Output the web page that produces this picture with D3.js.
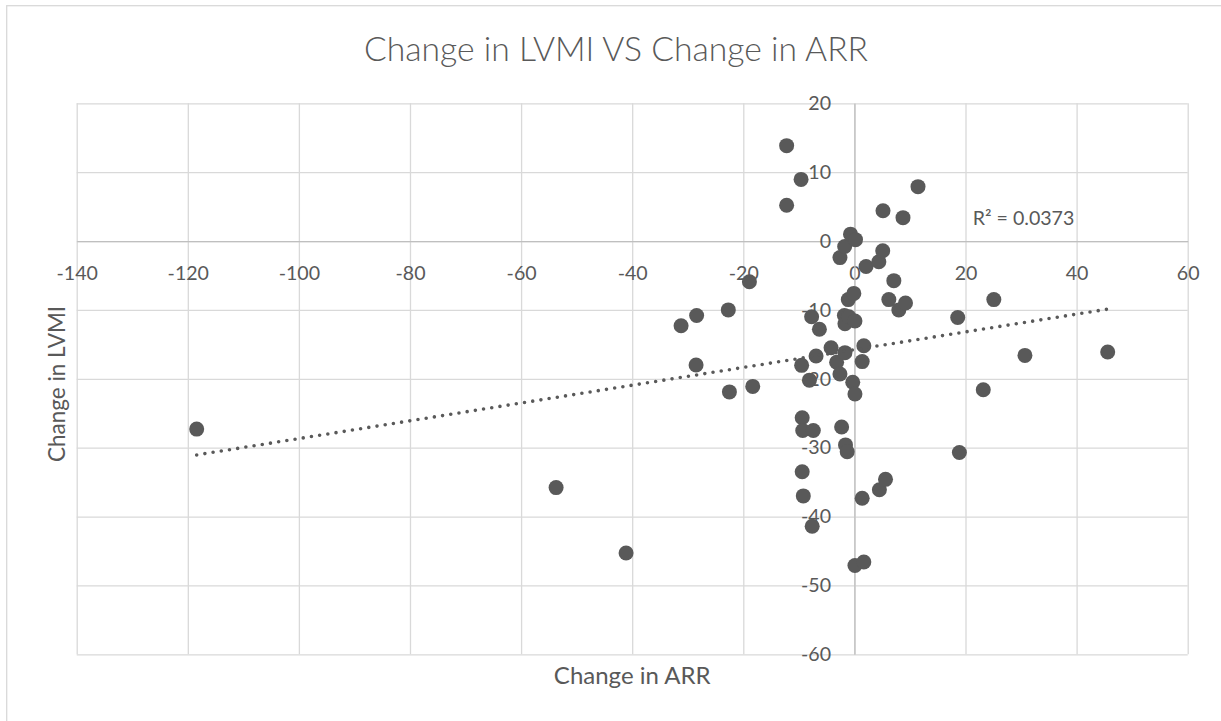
<!DOCTYPE html>
<html lang="en">
<head>
<meta charset="utf-8">
<title>Change in LVMI VS Change in ARR</title>
<script src="https://cdn.jsdelivr.net/npm/d3@7"></script>
<style>
  body { margin: 0; background: #fff; }
  svg { display: block; }
</style>
</head>
<body>
<script>
// values (x = change in ARR, y = change in LVMI)
var arrChange = [-118.4, -53.7, -41.1, -31.2, -28.4, -28.5, -22.7, -22.5, -18.9, -18.3,
                 -12.2, -9.6, -12.2, -9.5, -9.4, -9.3, -9.4, -9.2, -8.1, -7.7,
                 -7.6, -7.4, -6.9, -6.3, -4.2, -3.2, -2.6, -2.6, -2.3, -1.75,
                 -1.7, -1.8, -1.7, -1.6, -1.3, -1.1, -1.0, -0.7, -0.3, -0.1,
                 0.1, 0.1, 0.1, 0.2, 1.4, 1.4, 1.7, 1.7, 2.1, 4.4,
                 4.5, 5.1, 5.15, 5.6, 6.2, 7.1, 8.0, 8.75, 9.2, 11.45,
                 18.6, 18.9, 23.2, 25.1, 30.7, 45.6];
var lvmiChange = [-27.3, -35.8, -45.3, -12.3, -10.8, -18.0, -10.0, -21.9, -5.9, -21.1,
                  13.85, 8.95, 5.2, -18.05, -25.65, -27.5, -33.5, -37.0, -20.2, -11.0,
                  -41.4, -27.5, -16.7, -12.8, -15.5, -17.6, -2.4, -19.3, -27.0, -0.8,
                  -16.2, -10.8, -12.0, -29.6, -30.6, -8.5, -11.0, 1.0, -20.5, -7.6,
                  -11.6, -22.2, -47.1, 0.2, -17.5, -37.35, -15.2, -46.6, -3.7, -3.0,
                  -36.1, -1.4, 4.4, -34.6, -8.5, -5.75, -10.0, 3.4, -9.0, 7.9,
                  -11.1, -30.7, -21.6, -8.5, -16.6, -16.1];
var xTicks = [-140, -120, -100, -80, -60, -40, -20, 0, 20, 40, 60];
var yTicks = [20, 10, 0, -10, -20, -30, -40, -50, -60];
var rSquaredLabel = "R\u00b2 = 0.0373";

var w = 1221;
var h = 721;
var font = "Lato, sans-serif";
var grey = "#595959";

var svg = d3.select("body")
            .append("svg")
            .attr("width", w)
            .attr("height", h);

// chart area border (runs off the right and bottom edge)
svg.append("rect")
   .attr("x", 6.7)
   .attr("y", 5.7)
   .attr("width", 1400)
   .attr("height", 900)
   .attr("fill", "none")
   .attr("stroke", "#d9d9d9")
   .attr("stroke-width", 1.3);

var xScale = d3.scaleLinear()
               .domain([-140, 60])
               .range([76.7, 1187.7]);
var yScale = d3.scaleLinear()
               .domain([-60, 20])
               .range([654.3, 103.3]);

var plotTop = yScale(20), plotBottom = yScale(-60);
var plotLeft = xScale(-140), plotRight = xScale(60);

// plain hyphen minus, like the original
var fmt = function(d) { return String(d); };

// gridlines
svg.append("g")
   .attr("transform", "translate(0," + plotBottom + ")")
   .call(d3.axisBottom(xScale).tickValues(xTicks).tickSize(-(plotBottom - plotTop)).tickFormat(""))
   .call(function(g) {
     g.select(".domain").remove();
     g.selectAll("line").attr("stroke", "#d9d9d9").attr("stroke-width", 1.3);
   });
svg.append("g")
   .attr("transform", "translate(" + plotLeft + ",0)")
   .call(d3.axisLeft(yScale).tickValues(yTicks).tickSize(-(plotRight - plotLeft)).tickFormat(""))
   .call(function(g) {
     g.select(".domain").remove();
     g.selectAll("line").attr("stroke", "#d9d9d9").attr("stroke-width", 1.3);
   });

// axes crossing at zero
var xAxis = svg.append("g")
   .attr("transform", "translate(0," + yScale(0) + ")")
   .call(d3.axisBottom(xScale).tickValues(xTicks).tickFormat(fmt).tickSize(0).tickSizeOuter(0).tickPadding(25));
var yAxis = svg.append("g")
   .attr("transform", "translate(" + xScale(0) + ",0)")
   .call(d3.axisLeft(yScale).tickValues(yTicks).tickFormat(fmt).tickSize(0).tickSizeOuter(0).tickPadding(23.4));

[xAxis, yAxis].forEach(function(g) {
  g.select(".domain").attr("stroke", "#bfbfbf").attr("stroke-width", 1.3);
  g.selectAll("text")
   .attr("fill", grey)
   .attr("font-family", font)
   .attr("font-size", "19.6px");
});

// linear trendline from least squares
var n = arrChange.length;
var mx = d3.mean(arrChange), my = d3.mean(lvmiChange);
var sxy = 0, sxx = 0;
for (var i = 0; i < n; i++) {
  sxy += (arrChange[i] - mx) * (lvmiChange[i] - my);
  sxx += (arrChange[i] - mx) * (arrChange[i] - mx);
}
var slope = sxy / sxx;
var intercept = my - slope * mx;
var xExtent = d3.extent(arrChange);

var points = svg.selectAll("circle")
                .data(arrChange)
                .enter()
                .append("circle")
                .attr("cx", function(d) { return xScale(d); })
                .attr("cy", function(d, i) { return yScale(lvmiChange[i]); })
                .attr("r", 7.5)
                .attr("fill", grey);

var trend = d3.line()
              .x(function(d) { return xScale(d); })
              .y(function(d) { return yScale(intercept + slope * d); });
svg.append("path")
   .attr("d", trend(xExtent))
   .attr("fill", "none")
   .attr("stroke", grey)
   .attr("stroke-width", 3.6)
   .attr("stroke-linecap", "round")
   .attr("stroke-dasharray", "0,8.3");

svg.append("text")
   .text(rSquaredLabel)
   .attr("x", 972.7)
   .attr("y", 224.5)
   .attr("font-family", font)
   .attr("font-size", "19.6px")
   .attr("fill", grey);

// titles
svg.append("text")
   .text("Change in LVMI VS Change in ARR")
   .attr("x", 616)
   .attr("y", 61)
   .attr("text-anchor", "middle")
   .attr("font-family", font)
   .attr("font-weight", 300)
   .attr("font-size", "33.7px")
   .attr("fill", grey);

svg.append("text")
   .text("Change in ARR")
   .attr("x", (plotLeft + plotRight) / 2)
   .attr("y", 684)
   .attr("text-anchor", "middle")
   .attr("font-family", font)
   .attr("font-size", "24px")
   .attr("fill", grey);

svg.append("text")
   .text("Change in LVMI")
   .attr("transform", "translate(65,384) rotate(-90)")
   .attr("text-anchor", "middle")
   .attr("font-family", font)
   .attr("font-size", "22.5px")
   .attr("fill", grey);
</script>
</body>
</html>
